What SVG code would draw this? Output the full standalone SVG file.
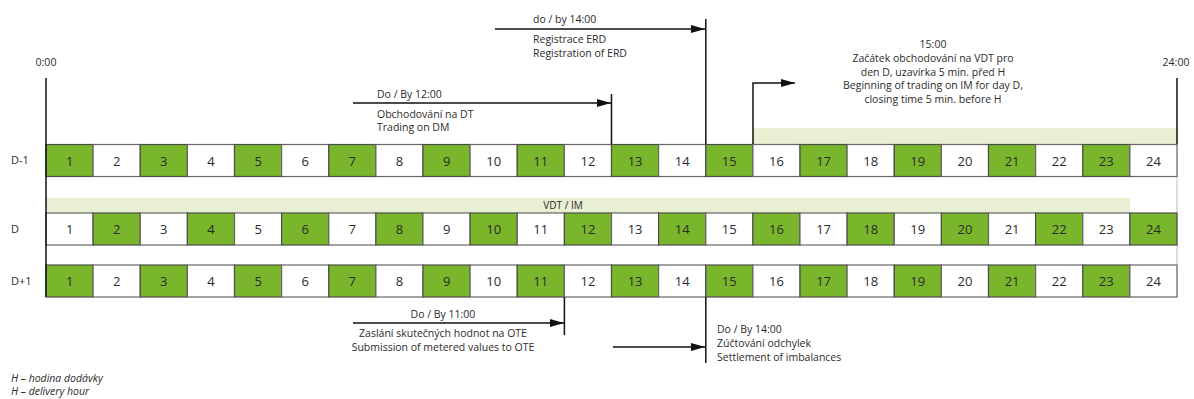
<svg xmlns="http://www.w3.org/2000/svg" width="1194" height="399" viewBox="0 0 1194 399">
  <defs>
    <marker id="arr" viewBox="0 0 14 8" refX="14" refY="4" markerWidth="14" markerHeight="8" markerUnits="userSpaceOnUse" orient="auto">
      <path d="M0,0 L14,4 L0,8 Z" fill="#111"/>
    </marker>
  </defs>
  <style>
    text { font-family: "Open Sans", "Noto Sans", sans-serif; fill: #2b2b2b; }
    .lbl { font-size: 10.5px; }
    .num { font-size: 13px; text-anchor: middle; }
    .row { font-size: 11px; }
    .g { fill: #7ab62b; stroke: #4d4d4d; stroke-width: 1.2; }
    .w { fill: #ffffff; stroke: #666; stroke-width: 1.2; }
    .band { fill: #e8efd3; }
    .ln { stroke: #111; stroke-width: 1.5; fill: none; }
    .frame { stroke: #bbb; stroke-width: 1; fill: none; }
    .it { font-size: 10.5px; font-style: italic; }
  </style>

  <!-- light bands: intraday trading windows -->
  <rect class="band" x="753" y="128" width="424" height="16"/>
  <rect class="band" x="46" y="198" width="1084" height="15"/>
  <text x="563" y="209" class="lbl" text-anchor="middle" style="font-size:10px">VDT / IM</text>

  <!-- outer frame -->
  <line class="frame" x1="1177" y1="144" x2="1177" y2="297"/>

  <!-- row D-1 -->
  <g id="row-d-minus-1">
    <text x="11" y="164" class="row">D-1</text>
    <g transform="translate(0,144.5)">
      <rect class="g" x="46" y="0" width="47.1" height="32"/><text class="num" x="69.6" y="21">1</text>
      <rect class="w" x="93.1" y="0" width="47.1" height="32"/><text class="num" x="116.7" y="21">2</text>
      <rect class="g" x="140.3" y="0" width="47.1" height="32"/><text class="num" x="163.8" y="21">3</text>
      <rect class="w" x="187.4" y="0" width="47.1" height="32"/><text class="num" x="210.9" y="21">4</text>
      <rect class="g" x="234.5" y="0" width="47.1" height="32"/><text class="num" x="258.1" y="21">5</text>
      <rect class="w" x="281.6" y="0" width="47.1" height="32"/><text class="num" x="305.2" y="21">6</text>
      <rect class="g" x="328.8" y="0" width="47.1" height="32"/><text class="num" x="352.3" y="21">7</text>
      <rect class="w" x="375.9" y="0" width="47.1" height="32"/><text class="num" x="399.4" y="21">8</text>
      <rect class="g" x="423" y="0" width="47.1" height="32"/><text class="num" x="446.6" y="21">9</text>
      <rect class="w" x="470.1" y="0" width="47.1" height="32"/><text class="num" x="493.7" y="21">10</text>
      <rect class="g" x="517.3" y="0" width="47.1" height="32"/><text class="num" x="540.8" y="21">11</text>
      <rect class="w" x="564.4" y="0" width="47.1" height="32"/><text class="num" x="587.9" y="21">12</text>
      <rect class="g" x="611.5" y="0" width="47.1" height="32"/><text class="num" x="635.1" y="21">13</text>
      <rect class="w" x="658.6" y="0" width="47.1" height="32"/><text class="num" x="682.2" y="21">14</text>
      <rect class="g" x="705.8" y="0" width="47.1" height="32"/><text class="num" x="729.3" y="21">15</text>
      <rect class="w" x="752.9" y="0" width="47.1" height="32"/><text class="num" x="776.4" y="21">16</text>
      <rect class="g" x="800" y="0" width="47.1" height="32"/><text class="num" x="823.6" y="21">17</text>
      <rect class="w" x="847.1" y="0" width="47.1" height="32"/><text class="num" x="870.7" y="21">18</text>
      <rect class="g" x="894.3" y="0" width="47.1" height="32"/><text class="num" x="917.8" y="21">19</text>
      <rect class="w" x="941.4" y="0" width="47.1" height="32"/><text class="num" x="964.9" y="21">20</text>
      <rect class="g" x="988.5" y="0" width="47.1" height="32"/><text class="num" x="1012.1" y="21">21</text>
      <rect class="w" x="1035.6" y="0" width="47.1" height="32"/><text class="num" x="1059.2" y="21">22</text>
      <rect class="g" x="1082.8" y="0" width="47.1" height="32"/><text class="num" x="1106.3" y="21">23</text>
      <rect class="w" x="1129.9" y="0" width="47.1" height="32"/><text class="num" x="1153.4" y="21">24</text>
    </g>
  </g>

  <!-- row D -->
  <g id="row-d">
    <text x="11" y="233" class="row">D</text>
    <g transform="translate(0,213)">
      <rect class="w" x="46" y="0" width="47.1" height="32"/><text class="num" x="69.6" y="21">1</text>
      <rect class="g" x="93.1" y="0" width="47.1" height="32"/><text class="num" x="116.7" y="21">2</text>
      <rect class="w" x="140.3" y="0" width="47.1" height="32"/><text class="num" x="163.8" y="21">3</text>
      <rect class="g" x="187.4" y="0" width="47.1" height="32"/><text class="num" x="210.9" y="21">4</text>
      <rect class="w" x="234.5" y="0" width="47.1" height="32"/><text class="num" x="258.1" y="21">5</text>
      <rect class="g" x="281.6" y="0" width="47.1" height="32"/><text class="num" x="305.2" y="21">6</text>
      <rect class="w" x="328.8" y="0" width="47.1" height="32"/><text class="num" x="352.3" y="21">7</text>
      <rect class="g" x="375.9" y="0" width="47.1" height="32"/><text class="num" x="399.4" y="21">8</text>
      <rect class="w" x="423" y="0" width="47.1" height="32"/><text class="num" x="446.6" y="21">9</text>
      <rect class="g" x="470.1" y="0" width="47.1" height="32"/><text class="num" x="493.7" y="21">10</text>
      <rect class="w" x="517.3" y="0" width="47.1" height="32"/><text class="num" x="540.8" y="21">11</text>
      <rect class="g" x="564.4" y="0" width="47.1" height="32"/><text class="num" x="587.9" y="21">12</text>
      <rect class="w" x="611.5" y="0" width="47.1" height="32"/><text class="num" x="635.1" y="21">13</text>
      <rect class="g" x="658.6" y="0" width="47.1" height="32"/><text class="num" x="682.2" y="21">14</text>
      <rect class="w" x="705.8" y="0" width="47.1" height="32"/><text class="num" x="729.3" y="21">15</text>
      <rect class="g" x="752.9" y="0" width="47.1" height="32"/><text class="num" x="776.4" y="21">16</text>
      <rect class="w" x="800" y="0" width="47.1" height="32"/><text class="num" x="823.6" y="21">17</text>
      <rect class="g" x="847.1" y="0" width="47.1" height="32"/><text class="num" x="870.7" y="21">18</text>
      <rect class="w" x="894.3" y="0" width="47.1" height="32"/><text class="num" x="917.8" y="21">19</text>
      <rect class="g" x="941.4" y="0" width="47.1" height="32"/><text class="num" x="964.9" y="21">20</text>
      <rect class="w" x="988.5" y="0" width="47.1" height="32"/><text class="num" x="1012.1" y="21">21</text>
      <rect class="g" x="1035.6" y="0" width="47.1" height="32"/><text class="num" x="1059.2" y="21">22</text>
      <rect class="w" x="1082.8" y="0" width="47.1" height="32"/><text class="num" x="1106.3" y="21">23</text>
      <rect class="g" x="1129.9" y="0" width="47.1" height="32"/><text class="num" x="1153.4" y="21">24</text>
    </g>
  </g>

  <!-- row D+1 -->
  <g id="row-d-plus-1">
    <text x="11" y="285" class="row">D+1</text>
    <g transform="translate(0,265)">
      <rect class="g" x="46" y="0" width="47.1" height="32"/><text class="num" x="69.6" y="21">1</text>
      <rect class="w" x="93.1" y="0" width="47.1" height="32"/><text class="num" x="116.7" y="21">2</text>
      <rect class="g" x="140.3" y="0" width="47.1" height="32"/><text class="num" x="163.8" y="21">3</text>
      <rect class="w" x="187.4" y="0" width="47.1" height="32"/><text class="num" x="210.9" y="21">4</text>
      <rect class="g" x="234.5" y="0" width="47.1" height="32"/><text class="num" x="258.1" y="21">5</text>
      <rect class="w" x="281.6" y="0" width="47.1" height="32"/><text class="num" x="305.2" y="21">6</text>
      <rect class="g" x="328.8" y="0" width="47.1" height="32"/><text class="num" x="352.3" y="21">7</text>
      <rect class="w" x="375.9" y="0" width="47.1" height="32"/><text class="num" x="399.4" y="21">8</text>
      <rect class="g" x="423" y="0" width="47.1" height="32"/><text class="num" x="446.6" y="21">9</text>
      <rect class="w" x="470.1" y="0" width="47.1" height="32"/><text class="num" x="493.7" y="21">10</text>
      <rect class="g" x="517.3" y="0" width="47.1" height="32"/><text class="num" x="540.8" y="21">11</text>
      <rect class="w" x="564.4" y="0" width="47.1" height="32"/><text class="num" x="587.9" y="21">12</text>
      <rect class="g" x="611.5" y="0" width="47.1" height="32"/><text class="num" x="635.1" y="21">13</text>
      <rect class="w" x="658.6" y="0" width="47.1" height="32"/><text class="num" x="682.2" y="21">14</text>
      <rect class="g" x="705.8" y="0" width="47.1" height="32"/><text class="num" x="729.3" y="21">15</text>
      <rect class="w" x="752.9" y="0" width="47.1" height="32"/><text class="num" x="776.4" y="21">16</text>
      <rect class="g" x="800" y="0" width="47.1" height="32"/><text class="num" x="823.6" y="21">17</text>
      <rect class="w" x="847.1" y="0" width="47.1" height="32"/><text class="num" x="870.7" y="21">18</text>
      <rect class="g" x="894.3" y="0" width="47.1" height="32"/><text class="num" x="917.8" y="21">19</text>
      <rect class="w" x="941.4" y="0" width="47.1" height="32"/><text class="num" x="964.9" y="21">20</text>
      <rect class="g" x="988.5" y="0" width="47.1" height="32"/><text class="num" x="1012.1" y="21">21</text>
      <rect class="w" x="1035.6" y="0" width="47.1" height="32"/><text class="num" x="1059.2" y="21">22</text>
      <rect class="g" x="1082.8" y="0" width="47.1" height="32"/><text class="num" x="1106.3" y="21">23</text>
      <rect class="w" x="1129.9" y="0" width="47.1" height="32"/><text class="num" x="1153.4" y="21">24</text>
    </g>
  </g>

  <!-- deadlines and time markers -->
  <g id="connectors">
    <line class="ln" x1="46" y1="78" x2="46" y2="297"/>
    <line class="ln" x1="1177" y1="78" x2="1177" y2="144"/>
    <line class="ln" x1="611.5" y1="94" x2="611.5" y2="144"/>
    <line class="ln" x1="353" y1="103" x2="611" marker-end="url(#arr)" y2="103"/>
    <line class="ln" x1="705.8" y1="19" x2="705.8" y2="144"/>
    <line class="ln" x1="495" y1="29" x2="705" y2="29" marker-end="url(#arr)"/>
    <path class="ln" d="M753,144 V83 H795" marker-end="url(#arr)"/>
    <line class="ln" x1="564.4" y1="297" x2="564.4" y2="335"/>
    <line class="ln" x1="353" y1="323" x2="564" y2="323" marker-end="url(#arr)"/>
    <line class="ln" x1="705.8" y1="297" x2="705.8" y2="363"/>
    <line class="ln" x1="613" y1="347" x2="705" y2="347" marker-end="url(#arr)"/>
  </g>

  <!-- time labels -->
  <g id="label-start">
    <text x="46" y="66" class="lbl" text-anchor="middle">0:00</text>
  </g>
  <g id="label-end">
    <text x="1176" y="66" class="lbl" text-anchor="middle">24:00</text>
  </g>

  <g id="note-erd" class="lbl">
    <text x="533" y="23">do / by 14:00</text>
    <text x="533" y="43">Registrace ERD</text>
    <text x="533" y="57">Registration of ERD</text>
  </g>

  <g id="note-dm" class="lbl">
    <text x="377" y="98">Do / By 12:00</text>
    <text x="377" y="118">Obchodování na DT</text>
    <text x="377" y="131">Trading on DM</text>
  </g>

  <g id="note-im" class="lbl" text-anchor="middle">
    <text x="933" y="48">15:00</text>
    <text x="933" y="62">Začátek obchodování na VDT pro</text>
    <text x="933" y="76">den D, uzavírka 5 min. před H</text>
    <text x="933" y="89">Beginning of trading on IM for day D,</text>
    <text x="933" y="103">closing time 5 min. before H</text>
  </g>

  <g id="note-ote" class="lbl" text-anchor="middle">
    <text x="443" y="318">Do / By 11:00</text>
    <text x="443" y="337">Zaslání skutečných hodnot na OTE</text>
    <text x="443" y="351">Submission of metered values to OTE</text>
  </g>

  <g id="note-settlement" class="lbl">
    <text x="717" y="333">Do / By 14:00</text>
    <text x="717" y="347">Zúčtování odchylek</text>
    <text x="717" y="361">Settlement of imbalances</text>
  </g>

  <g id="legend" class="it">
    <text x="11" y="382">H – hodina dodávky</text>
    <text x="11" y="395">H – delivery hour</text>
  </g>
</svg>
